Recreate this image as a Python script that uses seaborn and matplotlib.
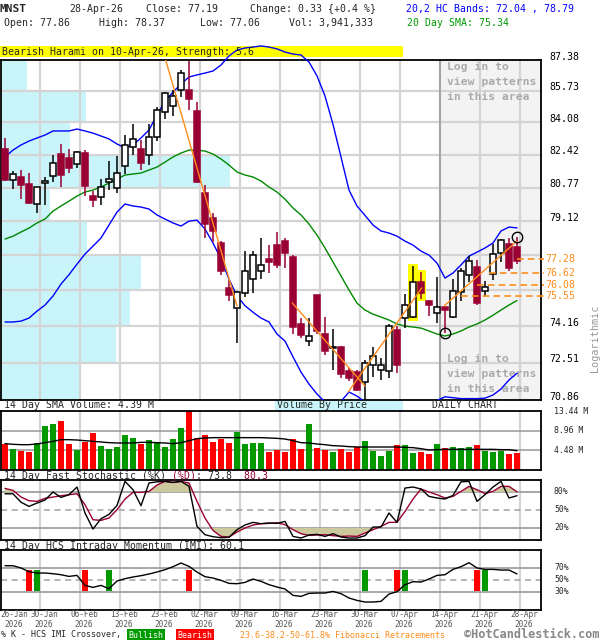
import numpy as np
import matplotlib
matplotlib.use("Agg")
import matplotlib.pyplot as plt
import matplotlib.transforms as mtransforms
from matplotlib.patches import Rectangle
from matplotlib.ticker import NullLocator
import seaborn as sns

# ---------------- data ----------------
tick_labels = ["26-Jan", "30-Jan", "06-Feb", "13-Feb", "23-Feb", "02-Mar", "09-Mar",
               "16-Mar", "23-Mar", "30-Mar", "07-Apr", "14-Apr", "21-Apr", "28-Apr"]
tick_bars = [0, 4, 9, 14, 19, 24, 29, 34, 39, 44, 49, 54, 59, 64]
year_label = "2026"

opens = [82.74, 81.17, 81.30, 80.95, 79.97, 80.99, 81.34, 82.47, 82.27, 81.95,
         82.52, 80.36, 80.28, 81.04, 80.75, 81.85, 82.81, 82.72, 82.43, 83.32,
         84.63, 84.95, 85.79, 85.79, 84.69, 80.50, 79.27, 78.06, 75.93, 75.00,
         75.70, 76.35, 76.71, 77.29, 77.98, 78.17, 77.38, 74.26, 73.49, 75.59,
         73.81, 73.19, 73.21, 72.14, 72.09, 71.64, 72.42, 72.17, 72.14, 73.98,
         74.53, 74.58, 76.19, 75.34, 74.78, 75.03, 74.57, 75.73, 76.53, 76.90,
         75.78, 76.59, 77.58, 78.02, 77.86]
highs = [83.29, 81.59, 81.66, 81.51, 80.80, 81.30, 82.40, 82.98, 82.71, 82.62,
         82.67, 80.58, 81.22, 82.12, 82.37, 83.41, 83.98, 83.18, 83.98, 84.90,
         85.66, 85.79, 86.86, 87.31, 85.17, 80.91, 79.52, 78.17, 76.32, 75.78,
         77.69, 77.69, 78.30, 77.95, 78.60, 78.30, 77.49, 74.53, 74.53, 75.62,
         74.56, 74.04, 73.25, 72.25, 72.19, 72.63, 73.21, 72.71, 74.27, 74.16,
         75.64, 76.95, 76.67, 75.36, 76.44, 75.05, 76.36, 76.87, 77.46, 77.25,
         76.27, 78.01, 78.23, 78.30, 78.37]
lows = [81.08, 80.71, 80.21, 79.96, 79.52, 79.92, 81.05, 80.78, 81.51, 81.73,
        80.33, 79.80, 79.92, 80.66, 80.50, 81.44, 82.40, 81.66, 81.88, 83.11,
        84.28, 84.39, 85.42, 84.72, 81.00, 78.30, 78.10, 76.53, 75.30, 73.38,
        75.50, 75.70, 76.37, 76.63, 76.87, 76.87, 73.78, 73.60, 73.26, 73.78,
        72.87, 72.19, 71.81, 71.69, 71.24, 70.87, 71.87, 71.75, 71.81, 72.06,
        74.08, 74.53, 75.42, 74.61, 74.30, 73.85, 74.55, 75.33, 76.21, 75.12,
        75.54, 76.32, 77.15, 76.74, 77.06]
closes = [81.16, 81.46, 80.91, 80.00, 80.80, 81.10, 82.00, 81.42, 81.73, 82.56,
          80.86, 80.16, 80.80, 81.20, 81.49, 82.93, 83.23, 82.00, 83.32, 84.74,
          85.60, 85.45, 86.70, 85.30, 81.05, 79.00, 78.62, 76.71, 75.62, 75.73,
          76.71, 77.49, 76.99, 77.13, 77.02, 77.58, 74.11, 73.75, 73.71, 73.96,
          73.03, 73.23, 72.02, 71.84, 71.31, 72.49, 72.79, 72.39, 74.16, 72.42,
          75.15, 76.19, 75.69, 75.13, 75.06, 74.90, 75.78, 76.71, 77.21, 75.23,
          75.96, 77.54, 78.21, 76.86, 77.19]
volume_m = [6.00, 4.71, 4.25, 4.02, 6.15, 9.95, 10.40, 11.09, 6.00, 4.48,
            6.38, 8.50, 5.39, 4.71, 5.16, 7.90, 7.21, 5.85, 6.76, 6.30,
            5.16, 6.99, 9.49, 13.44, 7.37, 7.90, 6.30, 7.06, 6.07, 8.58,
            6.00, 6.23, 6.07, 4.02, 4.48, 4.02, 6.99, 4.71, 10.40, 4.94,
            4.48, 4.02, 4.71, 4.02, 5.32, 6.53, 4.25, 3.11, 4.25, 5.62,
            5.62, 3.80, 4.02, 3.57, 5.85, 4.94, 5.16, 4.94, 5.16, 5.62,
            4.25, 4.02, 4.25, 3.57, 3.94]
volume_sma14 = [6.00, 5.85, 5.77, 5.77, 5.92, 6.23, 6.53, 6.91, 6.91, 6.83,
                6.68, 6.53, 6.38, 6.23, 6.15, 6.15, 6.15, 6.30, 6.30, 6.23,
                6.15, 6.00, 6.23, 6.68, 7.14, 7.29, 7.37, 7.37, 7.37, 7.37,
                7.37, 7.37, 7.37, 7.29, 7.21, 7.06, 6.68, 6.23, 6.15, 5.92,
                5.77, 5.54, 5.47, 5.32, 5.24, 5.24, 5.24, 5.24, 5.24, 5.24,
                5.16, 5.09, 4.86, 4.56, 4.63, 4.71, 4.71, 4.71, 4.71, 4.71,
                4.71, 4.71, 4.63, 4.63, 4.39]
upper_band = [82.31, 82.66, 82.92, 83.12, 83.28, 83.43, 83.64, 83.64, 83.64, 83.74,
              83.64, 83.53, 83.38, 83.23, 82.97, 82.77, 82.92, 83.28, 83.69, 84.47,
              85.20, 85.67, 86.09, 86.47, 86.58, 86.68, 86.79, 87.11, 87.60, 87.92,
              88.03, 88.08, 88.14, 88.08, 87.98, 87.81, 87.70, 87.65, 87.27, 86.53,
              85.46, 83.98, 82.31, 80.65, 79.86, 79.40, 78.93, 78.64, 78.54, 78.39,
              78.15, 77.96, 77.67, 77.48, 77.10, 76.39, 76.63, 77.01, 77.43, 77.62,
              77.82, 78.06, 78.64, 78.83, 78.79]
lower_band = [74.35, 74.35, 74.39, 74.53, 74.85, 75.13, 75.55, 76.11, 76.55, 77.05,
              77.53, 77.91, 78.30, 78.93, 79.56, 79.96, 79.86, 79.81, 79.71, 79.42,
              79.22, 79.03, 78.88, 79.12, 79.17, 78.73, 78.06, 77.29, 76.34, 75.55,
              75.10, 74.80, 74.53, 74.35, 73.80, 73.48, 72.77, 72.09, 71.56, 71.12,
              70.77, 70.55, 70.80, 71.21, 71.03, 70.77, 70.59, 70.51, 70.51, 70.59,
              70.68, 70.73, 70.73, 70.77, 70.84, 71.00, 70.96, 70.92, 70.92, 70.92,
              70.94, 71.08, 71.34, 71.74, 72.04]
sma20 = [78.25, 78.39, 78.59, 78.78, 79.03, 79.22, 79.61, 79.86, 80.10, 80.35,
         80.55, 80.65, 80.80, 81.00, 81.20, 81.40, 81.45, 81.50, 81.65, 81.80,
         82.05, 82.31, 82.51, 82.66, 82.66, 82.61, 82.46, 82.21, 81.90, 81.55,
         81.40, 81.30, 81.10, 80.80, 80.55, 80.20, 79.76, 79.42, 78.98, 78.44,
         77.82, 77.15, 76.49, 75.83, 75.22, 74.90, 74.71, 74.58, 74.44, 74.26,
         74.16, 74.12, 74.07, 73.94, 73.80, 73.71, 73.80, 73.94, 74.12, 74.26,
         74.44, 74.66, 74.90, 75.13, 75.34]
stoch_k = [77, 77, 63, 56, 61.6, 66.6, 80, 71, 75.5, 88.3,
           45, 18.3, 35.5, 42.7, 57.7, 97.7, 83.8, 57.2, 95, 97,
           97.7, 96, 97.7, 89.4, 22.7, 8.8, 5.5, 3.8, 4.4, 17.2,
           25, 29.4, 27.2, 28.3, 27.7, 31, 6, 3.3, 8.3, 9.4,
           6, 10.5, 5, 3.3, 3.3, 7.2, 21.6, 21.6, 45, 29.4,
           86.6, 88.3, 85, 72.7, 70, 68.3, 74.4, 97, 97.7, 64.4,
           75.5, 88.3, 97.7, 70, 73.8]
stoch_d = [86, 82.7, 71.6, 65.5, 64.4, 69.4, 71.6, 73.8, 75.5, 77.2,
           58.8, 33.8, 32.7, 36.6, 50.5, 68.3, 79.4, 79.4, 81, 91.6,
           97.7, 96, 97.7, 95, 64.4, 36.6, 16, 6, 5, 13.3,
           20, 25, 27.2, 27.7, 28.8, 25.5, 17.2, 10.5, 7.7, 8.3,
           8.8, 7.2, 6, 6.6, 6, 11.6, 17.2, 22.7, 29.4, 29.4,
           47.7, 68.3, 85, 80, 75.5, 70, 72.7, 81, 89.4, 83.8,
           77.2, 81, 89.4, 89.4, 80.3]
imi = [73.8, 73.8, 70, 63.8, 61.6, 61.6, 60.5, 58.8, 56, 57.7,
       41, 37.7, 41, 35.5, 48.3, 52.2, 55, 57.2, 60, 63.3,
       67.2, 72.2, 78.3, 72.7, 63.3, 55.5, 53.3, 49.4, 44.4, 43.8,
       46, 51.6, 47.7, 42.2, 38.3, 35, 24.4, 22.7, 27.7, 28.3,
       28.3, 31, 27.2, 20, 16, 13.3, 13.3, 14.4, 26.6, 30.5,
       42.2, 47.2, 46.6, 51.6, 57.7, 58.8, 67.7, 72.2, 78.8, 70,
       67.7, 67.7, 66.6, 66.6, 60.1]
bullish_cross = [4, 13, 45, 50, 60]
bearish_cross = [3, 10, 23, 49, 59]

price_grid = [87.38, 85.73, 84.08, 82.42, 80.77, 79.12, 77.47, 75.81, 74.16, 72.51, 70.86]
price_grid_labels = ["87.38", "85.73", "84.08", "82.42", "80.77", "79.12", "", "",
                     "74.16", "72.51", "70.86"]
vbp_volume = [26, 85, 69, 229, 49, 86, 140, 129, 115, 78]   # relative, top band first
fib_levels = [77.28, 76.62, 76.08, 75.55]
fib_start_bars = [64, 60.5, 59, 57]
zz_x0 = [20.0, 35.9, 42.9, 54.9]
zz_y0 = [87.50, 75.23, 71.21, 75.09]
zz_x1 = [29.0, 45.0, 52.1, 64.0]
zz_y1 = [75.09, 71.47, 75.93, 78.15]
pattern_bars = [51, 52]
swing_low_bar, swing_low = 55, 73.85
swing_high_bar, swing_high = 64, 78.37
login_from_bar = 54.375
login_lines = ["Log in to", "view patterns", "in this area"]

vol_ticks = [13.44, 8.96, 4.48]
stoch_ticks = [80, 50, 20]
imi_ticks = [70, 50, 30]

# ---------------- style ----------------
sns.set_style("white")
plt.rcParams['font.family'] = ['DejaVu Sans Mono', 'DejaVu Sans']
plt.rcParams['font.size'] = 7.1

W, H = 600, 640
fig = plt.figure(figsize=(W / 100, H / 100), dpi=100)
fig.patch.set_facecolor('white')

def px_axes(x0, y0, x1, y1):
    return fig.add_axes([x0 / W, 1 - y1 / H, (x1 - x0) / W, (y1 - y0) / H])

def ftext(x, y, s, **kw):
    kw.setdefault('va', 'center')
    kw.setdefault('ha', 'left')
    kw.setdefault('fontsize', 7.1)
    return fig.text(x / W, 1 - y / H, s, **kw)

idx = np.arange(len(closes))
XL = (-0.5, 67)
GRID = '#d4d4d4'
DARK = '#a0a0a0'
MAROON = '#990033'
CYAN = '#c8f4fa'
ORANGE = '#ff8c1a'

ax = px_axes(1, 60, 541, 400)
axv = px_axes(1, 411, 541, 470)
axs = px_axes(1, 480, 541, 540)
axi = px_axes(1, 550, 541, 610)

for a in (ax, axv, axs, axi):
    a.set_facecolor('white')
    for sp in a.spines.values():
        sp.set_color('black')
        sp.set_linewidth(1.3)
    for b in tick_bars[1:]:
        a.axvline(b + 0.375, color=GRID, lw=1.6, zorder=1)

# ---------------- price panel ----------------
ax.set_yscale('log')
ax.set_ylim(price_grid[-1], price_grid[0])
ax.set_xlim(*XL)

# volume by price
for i in range(len(vbp_volume)):
    top, bot = price_grid[i], price_grid[i + 1]
    ax.barh(bot, vbp_volume[i] / 8.0, height=top - bot, left=XL[0], align='edge',
            color=CYAN, zorder=0.3, linewidth=0)
# log-in area
ax.axvspan(login_from_bar, XL[1], color='#f3f3f3', zorder=0.4, lw=0)
for v in price_grid[1:-1]:
    ax.axhline(v, color=GRID, lw=1.6, zorder=1)
ax.axvline(login_from_bar, color=DARK, lw=1.3, zorder=1.2)

for ytop in (67, 359):
    for j, line in enumerate(login_lines):
        yy = ytop + 15 * j
        ax.text((447 - 1) / 540, 1 - (yy - 60) / 340, line, transform=ax.transAxes,
                va='center', ha='left', fontsize=8.2, fontweight='bold',
                color='#aaaaaa', zorder=1.5)

# pattern highlight
for b in pattern_bars:
    ax.add_patch(Rectangle((b - 0.65, lows[b] * 0.9985), 1.3,
                           highs[b] * 1.0015 - lows[b] * 0.9985,
                           facecolor='#ffff00', edgecolor='none', zorder=2))

# bands and SMA
sns.lineplot(x=idx, y=upper_band, ax=ax, color='#0000ff', lw=1, clip_on=False,
             zorder=4, legend=False)
sns.lineplot(x=idx, y=lower_band, ax=ax, color='#0000ff', lw=1, zorder=4, legend=False)
sns.lineplot(x=idx, y=sma20, ax=ax, color='#008800', lw=1, zorder=4, legend=False)

# candles
for i in idx:
    o, h, l, c = opens[i], highs[i], lows[i], closes[i]
    bear = c < o
    col = MAROON if bear else 'black'
    ax.vlines(i, l, h, color=col, lw=1.1, zorder=5)
    lo, hi = min(o, c), max(o, c)
    if hi - lo < 0.03:
        hi = lo + 0.03
    ax.add_patch(Rectangle((i - 0.36, lo), 0.72, hi - lo,
                           facecolor=MAROON if bear else 'white',
                           edgecolor=MAROON if bear else 'black',
                           lw=1.1, zorder=6))

# zigzag trend lines
for x0, y0, x1, y1 in zip(zz_x0, zz_y0, zz_x1, zz_y1):
    ax.plot([x0, x1], [y0, y1], color=ORANGE, lw=1, zorder=7)

# fib retracements
lab_tr = ax.get_yaxis_transform()
for lev, sb in zip(fib_levels, fib_start_bars):
    ax.hlines(lev, sb, XL[1] + 0.35, colors=ORANGE, linestyles=(0, (4, 2.5)), lw=1.2,
              zorder=7, clip_on=False)
    ax.text((545 - 1) / 540, lev, f"{lev:.2f}", transform=lab_tr, color=ORANGE,
            va='center', ha='left', fontsize=7.1)

# swing circles
ax.plot([swing_low_bar], [swing_low], marker='o', ms=7.5, mfc='none', mec='black',
        mew=1, zorder=8)
ax.plot([swing_high_bar], [swing_high], marker='o', ms=7.5, mfc='none', mec='black',
        mew=1, zorder=8)

# price labels
up_tr = mtransforms.offset_copy(lab_tr, fig=fig, x=0, y=3.5, units='dots')
for v, s in zip(price_grid, price_grid_labels):
    if s:
        ax.text((549 - 1) / 540, v, s, transform=up_tr, va='center', ha='left',
                fontsize=7.1, color='black')

# ---------------- volume panel ----------------
vol_colors = ['#ff0000' if closes[i] < opens[i] else '#009900' for i in idx]
axv.bar(idx, volume_m, width=0.72, color=vol_colors, zorder=2, linewidth=0)
for v in vol_ticks[1:]:
    axv.axhline(v, color=DARK, lw=1.2, zorder=1)
sns.lineplot(x=idx, y=volume_sma14, ax=axv, color='black', lw=1, zorder=3, legend=False)
axv.set_ylim(0, vol_ticks[0])
axv.set_xlim(*XL)
for v in vol_ticks:
    axv.text((554 - 1) / 540, v, f"{v:.2f} M", transform=axv.get_yaxis_transform(),
             va='center', ha='left', fontsize=5.9)

# ---------------- stochastic panel ----------------
dd = np.array(stoch_d)
axs.set_ylim(0, 100)
axs.set_xlim(*XL)
axs.axhline(80, color=DARK, lw=1.3, zorder=1)
axs.axhline(20, color=DARK, lw=1.3, zorder=1)
axs.axhline(50, color=DARK, lw=1.1, ls=(0, (4, 3)), zorder=1)
axs.fill_between(idx, dd, 80, where=dd >= 80, interpolate=True, color='#cbc99d',
                 zorder=2, lw=0)
axs.fill_between(idx, dd, 20, where=dd <= 20, interpolate=True, color='#cbc99d',
                 zorder=2, lw=0)
sns.lineplot(x=idx, y=stoch_d, ax=axs, color=MAROON, lw=1, zorder=3, legend=False)
sns.lineplot(x=idx, y=stoch_k, ax=axs, color='black', lw=1, zorder=4, legend=False)
for v in stoch_ticks:
    axs.text((554 - 1) / 540, v, f"{v}%", transform=axs.get_yaxis_transform(),
             va='center', ha='left', fontsize=5.9)

# ---------------- IMI panel ----------------
axi.set_ylim(0, 100)
axi.set_xlim(*XL)
axi.axhline(70, color=DARK, lw=1.3, zorder=1)
axi.axhline(30, color=DARK, lw=1.3, zorder=1)
axi.axhline(50, color=DARK, lw=1.1, ls=(0, (4, 3)), zorder=1)
axi.bar(bullish_cross, 36, bottom=31, width=0.75, color='#009900', zorder=2, linewidth=0)
axi.bar(bearish_cross, 36, bottom=31, width=0.75, color='#ff0000', zorder=2, linewidth=0)
sns.lineplot(x=idx, y=imi, ax=axi, color='black', lw=1, zorder=3, legend=False)
for v in imi_ticks:
    axi.text((554 - 1) / 540, v, f"{v}%", transform=axi.get_yaxis_transform(),
             va='center', ha='left', fontsize=5.9)

for a in (ax, axv, axs, axi):
    a.set_xticks([])
    a.set_yticks([])
    a.set_xlabel('')
    a.set_ylabel('')
ax.yaxis.set_minor_locator(NullLocator())

# date labels
date_tr = mtransforms.blended_transform_factory(axi.transData, fig.transFigure)
for k, (b, lab) in enumerate(zip(tick_bars, tick_labels)):
    if k == 0:
        ftext(0, 614.5, lab, fontsize=5.6, color='#555555')
        ftext(4, 624.5, year_label, fontsize=5.6, color='#555555')
    else:
        fig.text(b + 0.875, 1 - 614.5 / H, lab, transform=date_tr, ha='center',
                 va='center', fontsize=5.6, color='#555555')
        fig.text(b + 0.875, 1 - 624.5 / H, year_label, transform=date_tr, ha='center',
                 va='center', fontsize=5.6, color='#555555')

# ---------------- header & labels ----------------
chg = closes[-1] - closes[-2]
ftext(0, 9, "MNST", fontsize=8, fontweight='bold')
ftext(69, 9, "28-Apr-26")
ftext(146, 9, f"Close: {closes[-1]:.2f}")
ftext(250, 9, f"Change: {chg:.2f} {{+{chg / closes[-2] * 100:.1f} %}}")
ftext(406, 9, f"20,2 HC Bands: {lower_band[-1]:.2f} , {upper_band[-1]:.2f}", color='#0000ff')
ftext(4, 23, f"Open: {opens[-1]:.2f}")
ftext(99, 23, f"High: {highs[-1]:.2f}")
ftext(200, 23, f"Low: {lows[-1]:.2f}")
ftext(289, 23, "Vol: 3,941,333")
ftext(407, 23, f"20 Day SMA: {sma20[-1]:.2f}", color='#009900')

fig.patches.append(Rectangle((0, 1 - 57 / H), 403 / W, 11 / H, transform=fig.transFigure,
                             facecolor='#ffff00', edgecolor='none', zorder=-1))
ftext(2, 52, "Bearish Harami on 10-Apr-26, Strength: 5.6")

ftext(4, 405, f"14 Day SMA Volume: {volume_sma14[-1]:.2f} M")
fig.patches.append(Rectangle((275 / W, 1 - 411 / H), 128 / W, 11 / H, transform=fig.transFigure,
                             facecolor=CYAN, edgecolor='none', zorder=-1))
ftext(277, 405, "Volume By Price")
ftext(432, 405, "DAILY CHART")

stoch_full = f"14 Day Fast Stochastic (%K) (%D): {stoch_k[-1]:.1f}  {stoch_d[-1]:.1f}"
p1 = stoch_full.index("(%D)")
p2 = stoch_full.rindex(f"{stoch_d[-1]:.1f}")
black_s = stoch_full[:p1] + " " * 4 + stoch_full[p1 + 4:p2] + " " * (len(stoch_full) - p2)
red_s = " " * p1 + "(%D)" + " " * (p2 - p1 - 4) + stoch_full[p2:]
ftext(4, 476, black_s)
ftext(4, 476, red_s, color=MAROON)

ftext(4, 546, f"14 Day HCS Intraday Momentum (IMI): {imi[-1]:.1f}")

ftext(595, 338, "Logarithmic", rotation=90, ha='center', color='#999999', fontsize=7.3)

# bottom legend
ftext(1, 635, "% K - HCS IMI Crossover,", fontsize=6)
fig.patches.append(Rectangle((127 / W, 1 - 641 / H), 38 / W, 12 / H, transform=fig.transFigure,
                             facecolor='#009900', edgecolor='none', zorder=-1))
ftext(146, 635, "Bullish", fontsize=6, color='white', ha='center')
fig.patches.append(Rectangle((176 / W, 1 - 641 / H), 38 / W, 12 / H, transform=fig.transFigure,
                             facecolor='#ff0000', edgecolor='none', zorder=-1))
ftext(195, 635, "Bearish", fontsize=6, color='white', ha='center')
ftext(240, 635, "23.6-38.2-50-61.8% Fibonacci Retracements", fontsize=6, color=ORANGE)
ftext(599, 634, "\u00a9HotCandlestick.com", fontsize=8.6, color='#888888', ha='right',
      fontweight='bold')

fig.savefig("out.png", dpi=100)
